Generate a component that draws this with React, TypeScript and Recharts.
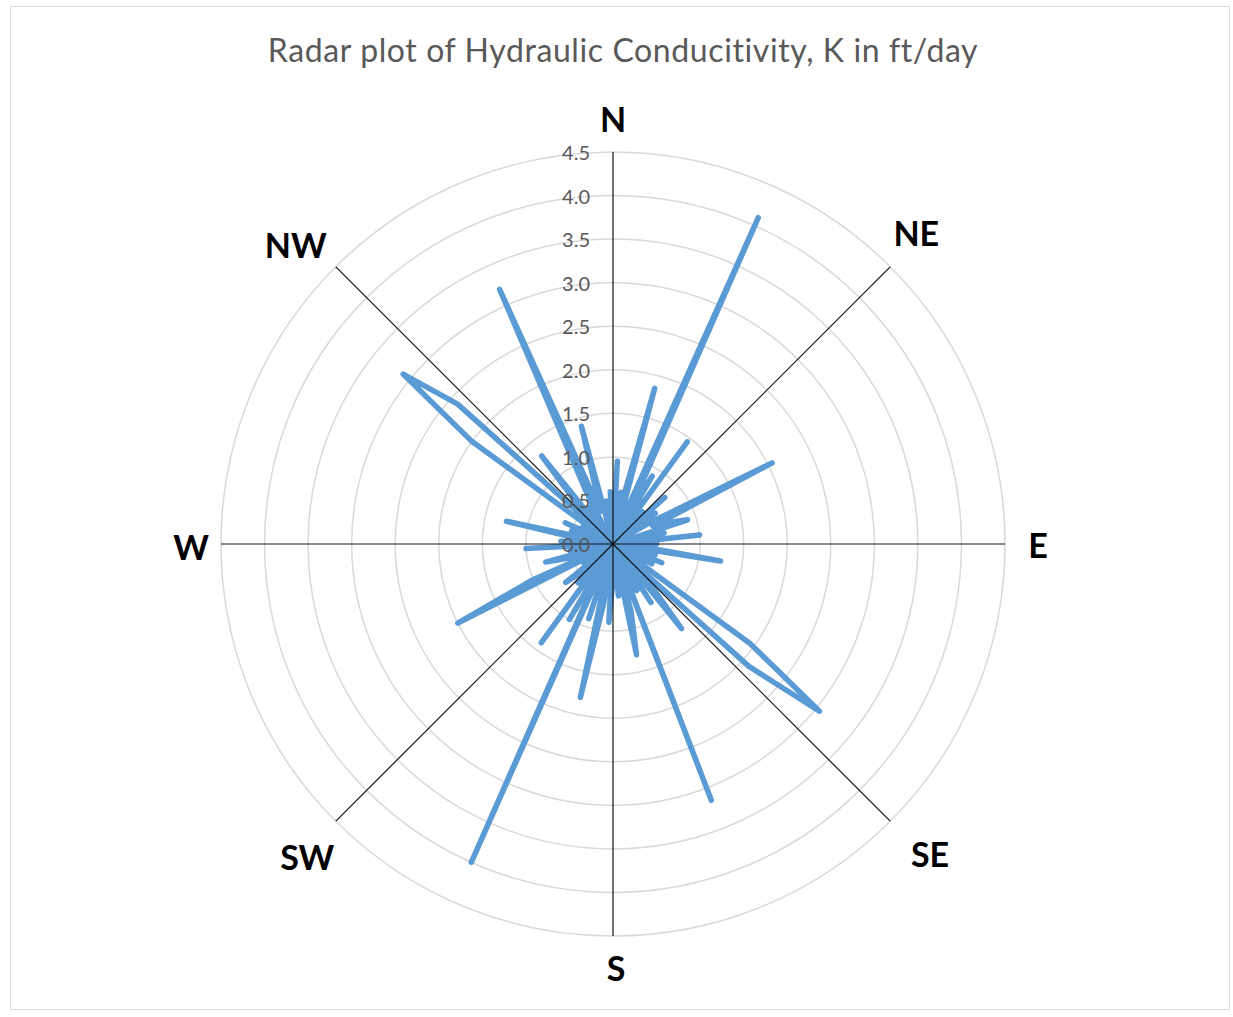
import React from 'react';
import { RadarChart, Radar, PolarGrid, PolarAngleAxis, PolarRadiusAxis } from 'recharts';

// bearings (deg, clockwise from north) at 3 degree steps
const BEARINGS: number[] = [
  0, 3, 6, 9, 12, 15, 18, 21, 24, 27, 30, 33, 36, 39, 42, 45, 48, 51, 54, 57,
  60, 63, 66, 69, 72, 75, 78, 81, 84, 87, 90, 93, 96, 99, 102, 105, 108, 111, 114, 117,
  120, 123, 126, 129, 132, 135, 138, 141, 144, 147, 150, 153, 156, 159, 162, 165, 168, 171, 174, 177,
  180, 183, 186, 189, 192, 195, 198, 201, 204, 207, 210, 213, 216, 219, 222, 225, 228, 231, 234, 237,
  240, 243, 246, 249, 252, 255, 258, 261, 264, 267, 270, 273, 276, 279, 282, 285, 288, 291, 294, 297,
  300, 303, 306, 309, 312, 315, 318, 321, 324, 327, 330, 333, 336, 339, 342, 345, 348, 351, 354, 357,
];

// hydraulic conductivity K (ft/day)
const K_VALUES: number[] = [
  0.1, 0.95, 0.0, 0.6, 0.5, 1.85, 0.1, 0.3, 4.1, 0.4, 0.9, 0.0, 1.45, 0.0, 0.5, 0.1, 0.8, 0.0, 0.6, 0.1,
  0.5, 2.05, 0.5, 0.7, 0.9, 0.1, 0.6, 0.0, 1.0, 0.1, 0.5, 0.0, 0.4, 1.25, 0.0, 0.5, 0.1, 0.6, 0.0, 0.5,
  0.0, 0.1, 1.95, 3.05, 2.1, 0.1, 0.7, 1.25, 0.0, 0.8, 0.1, 0.6, 0.0, 3.15, 0.1, 0.8, 1.3, 0.0, 0.6, 0.1,
  0.4, 0.9, 0.0, 0.7, 1.8, 0.1, 0.9, 0.0, 4.0, 0.3, 1.0, 0.0, 1.4, 0.1, 0.6, 0.0, 0.5, 0.7, 0.0, 0.4,
  0.1, 2.0, 1.0, 0.0, 0.5, 0.8, 0.1, 0.5, 0.0, 1.0, 0.1, 0.6, 0.0, 0.4, 1.25, 0.0, 0.5, 0.1, 0.6, 0.0,
  0.4, 0.0, 2.0, 3.1, 2.4, 0.1, 0.6, 1.3, 0.0, 0.5, 0.1, 0.7, 3.2, 0.4, 0.6, 1.4, 0.1, 0.5, 0.0, 0.6,
];

const RADIUS_TICKS = [0, 0.5, 1, 1.5, 2, 2.5, 3, 3.5, 4, 4.5];
const COMPASS_BEARINGS = [0, 45, 90, 135, 180, 225, 270, 315];
const COMPASS_LABELS = ['N', 'NE', 'E', 'SE', 'S', 'SW', 'W', 'NW'];
// where each compass label sits (bearing, distance from centre in px)
const LABEL_BEARING = [0, 44.2, 90, 134.3, 179.6, 224.4, 269.6, 313.3];
const LABEL_DIST = [426, 435, 425, 443, 424, 437, 422, 436];

const data = BEARINGS.map((b, i) => ({ bearing: b, k: K_VALUES[i] }));

const W = 1233;
const H = 1017;
const CX = 613;
const CY = 544;
const R = 392; // radius of the 4.5 ring
// recharts rounds the radius domain up to 5, so size the chart for 5
const R_FULL = (R * 5) / 4.5;

const font = 'Lato, "Open Sans", sans-serif';

// only the 8 compass categories get an axis line and a label
const CompassTick = (props: any) => {
  const { payload } = props;
  const idx = COMPASS_BEARINGS.indexOf(payload.value);
  if (idx < 0) return <g />;
  const b = (COMPASS_BEARINGS[idx] * Math.PI) / 180;
  const a = (LABEL_BEARING[idx] * Math.PI) / 180;
  const d = LABEL_DIST[idx];
  return (
    <g>
      <line
        x1={CX}
        y1={CY}
        x2={CX + Math.sin(b) * R}
        y2={CY - Math.cos(b) * R}
        stroke="#111"
        strokeWidth={1.2}
      />
      <text
        x={CX + Math.sin(a) * d}
        y={CY - Math.cos(a) * d}
        textAnchor="middle"
        dominantBaseline="central"
        fontFamily={font}
        fontWeight={700}
        fontSize={34}
        fill="#000"
      >
        {COMPASS_LABELS[idx]}
      </text>
    </g>
  );
};

const RadiusTick = (props: any) => {
  const { x, y, payload } = props;
  if (payload.value > 4.5) return <g />;
  return (
    <text
      x={x - 23}
      y={y}
      textAnchor="end"
      dominantBaseline="central"
      fontFamily={font}
      fontSize={20}
      fill="#595959"
    >
      {Number(payload.value).toFixed(1)}
    </text>
  );
};

export default function App() {
  return (
    <div style={{ position: 'absolute', left: 0, top: 0, width: W, height: H, background: '#fff' }}>
      <div
        style={{
          position: 'absolute',
          left: 10,
          top: 6,
          width: 1220,
          height: 1004,
          border: '1px solid #d9d9d9',
          boxSizing: 'border-box',
        }}
      />
      <div
        style={{
          position: 'absolute',
          left: 0,
          top: 31,
          width: 1246,
          textAlign: 'center',
          fontFamily: font,
          fontSize: 32,
          letterSpacing: 0.6,
          color: '#595959',
          lineHeight: '38px',
        }}
      >
        Radar plot of Hydraulic Conducitivity, K in ft/day
      </div>
      <div style={{ position: 'absolute', left: 0, top: 0 }}>
        <RadarChart
          width={W}
          height={H}
          data={data}
          cx={CX}
          cy={CY}
          outerRadius={R_FULL}
          margin={{ top: 0, right: 0, bottom: 0, left: 0 }}
        >
          <PolarGrid gridType="circle" radialLines={false} stroke="#d9d9d9" strokeWidth={1.5} />
          <Radar
            dataKey="k"
            stroke="#5b9bd5"
            strokeWidth={5.5}
            strokeLinejoin="round"
            fill="none"
            fillOpacity={0}
            dot={false}
            isAnimationActive={false}
          />
          <PolarAngleAxis dataKey="bearing" tick={CompassTick} tickLine={false} axisLine={false} />
          <PolarRadiusAxis
            angle={90}
            type="number"
            domain={[0, 5]}
            ticks={RADIUS_TICKS as any}
            tick={RadiusTick}
            axisLine={false}
            tickLine={false}
          />
        </RadarChart>
      </div>
    </div>
  );
}
